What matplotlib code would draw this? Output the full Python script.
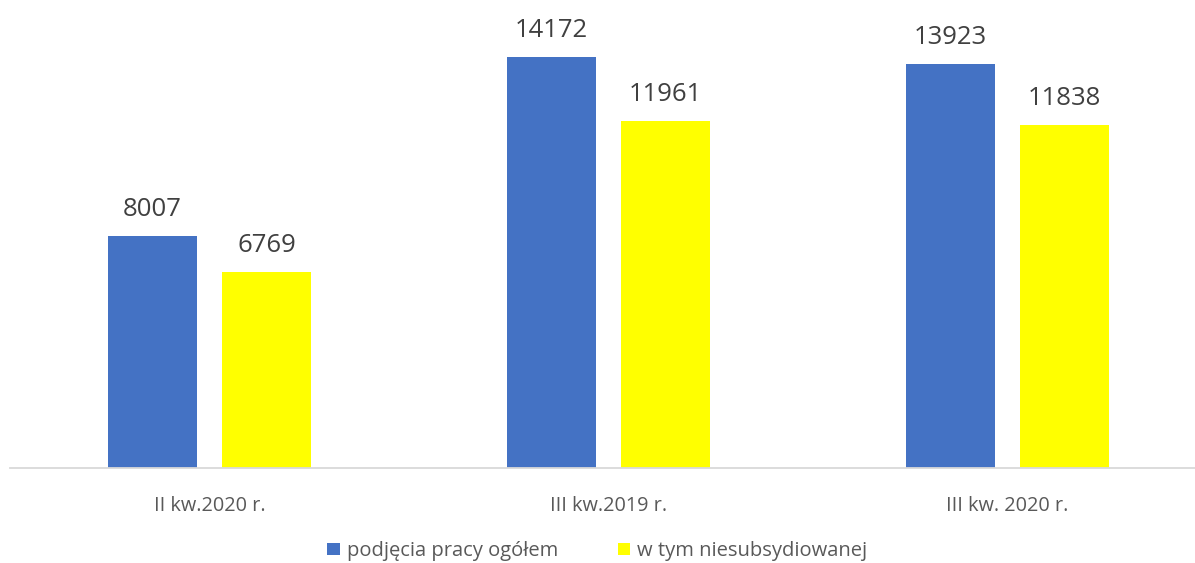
import numpy as np
import matplotlib.pyplot as plt

plt.rcParams['font.family'] = ['Open Sans', 'DejaVu Sans']

categories = ['II kw.2020 r.', 'III kw.2019 r.', 'III kw. 2020 r.']
ogolem = [8007, 14172, 13923]
niesubs = [6769, 11961, 11838]
series_names = ['podjęcia pracy ogółem', 'w tym niesubsydiowanej']

fig = plt.figure(figsize=(11.95, 5.63), dpi=100)
ax = fig.add_axes([10 / 1195, (563 - 468) / 563, 1185 / 1195, 458 / 563])

x = np.arange(len(categories))
w = 0.223
off = 0.143
b1 = ax.bar(x - off, ogolem, w, color='#4472C4', label=series_names[0])
b2 = ax.bar(x + off, niesubs, w, color='#FFFF00', label=series_names[1])

# etykiety wartosci nad slupkami
for bars in (b1, b2):
    for r in bars:
        ax.text(r.get_x() + r.get_width() / 2, r.get_height() + 480, str(int(r.get_height())),
                ha='center', va='bottom', fontsize=18.5, color='#404040')

ax.set_xlim(-0.5, (1195 - 209.5) / 399)
ax.set_ylim(0, 458 / 0.029)
for s in ['top', 'right', 'left']:
    ax.spines[s].set_visible(False)
ax.spines['bottom'].set_color('#D9D9D9')
ax.spines['bottom'].set_linewidth(1.3)
ax.set_yticks([])
ax.set_xticks(x)
ax.set_xticklabels(categories, fontsize=14.3, color='#595959')
ax.tick_params(axis='x', length=0, pad=20)

fig.legend(handles=[b1, b2], loc='center', bbox_to_anchor=(0.5, 1 - 551 / 563), ncol=2,
           frameon=False, fontsize=14.5, handlelength=0.6, handleheight=0.6,
           handletextpad=0.35, columnspacing=3.0, labelcolor='#595959')

fig.savefig('out.png', dpi=100)
